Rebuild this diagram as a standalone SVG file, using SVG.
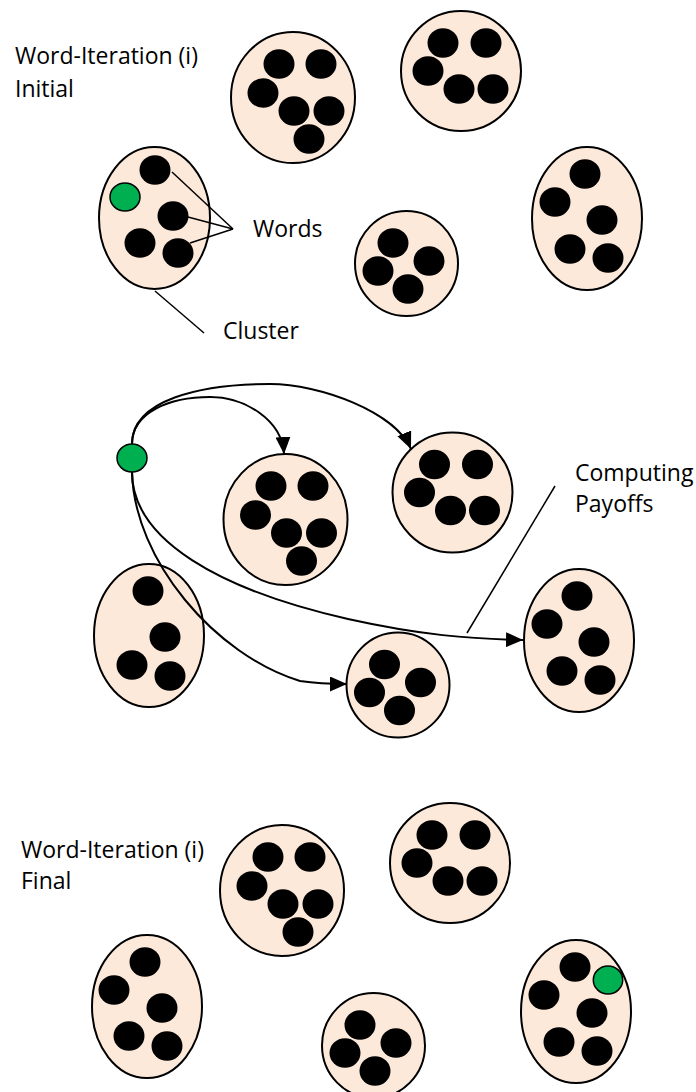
<svg xmlns="http://www.w3.org/2000/svg" width="696" height="1092" viewBox="0 0 696 1092">
<style>
.cl{fill:#FCE9DA;stroke:#000;stroke-width:2}
.w{fill:#000}
.g{fill:#00B050;stroke:#000;stroke-width:1.5}
.ln{fill:none;stroke:#000;stroke-width:1.5}
.ar{fill:none;stroke:#000;stroke-width:2;marker-end:url(#ah)}
.t{font-family:"Open Sans","Liberation Sans",Arial,sans-serif;font-size:23px;fill:#000}
</style>
<defs>
<marker id="ah" markerUnits="userSpaceOnUse" markerWidth="17" markerHeight="15" refX="17" refY="7.5" orient="auto"><path d="M0,0 L17,7.5 L0,15 z" fill="#000"/></marker>
</defs>
<rect width="696" height="1092" fill="#fff"/>
<g id="labels">
<text class="t" x="15" y="64">Word-Iteration (i)</text>
<text class="t" x="15" y="97">Initial</text>
<text class="t" x="253" y="237">Words</text>
<text class="t" x="223" y="339">Cluster</text>
<text class="t" x="575" y="481">Computing</text>
<text class="t" x="575" y="512">Payoffs</text>
<text class="t" x="21" y="858">Word-Iteration (i)</text>
<text class="t" x="21" y="889">Final</text>
</g>
<g id="clusterA">
<ellipse class="cl" cx="293" cy="97.5" rx="62" ry="65.5"/>
<ellipse class="w" cx="279" cy="64" rx="15.5" ry="14.8"/><ellipse class="w" cx="321" cy="64" rx="15.5" ry="14.8"/><ellipse class="w" cx="263" cy="93" rx="15.5" ry="14.8"/><ellipse class="w" cx="294" cy="111" rx="15.5" ry="14.8"/><ellipse class="w" cx="329" cy="111" rx="15.5" ry="14.8"/><ellipse class="w" cx="309" cy="139" rx="15.5" ry="14.8"/>
</g>
<g id="clusterB">
<ellipse class="cl" cx="461" cy="71" rx="60" ry="60"/>
<ellipse class="w" cx="443" cy="43" rx="15.5" ry="14.8"/><ellipse class="w" cx="486" cy="43" rx="15.5" ry="14.8"/><ellipse class="w" cx="428" cy="71" rx="15.5" ry="14.8"/><ellipse class="w" cx="459" cy="89" rx="15.5" ry="14.8"/><ellipse class="w" cx="493" cy="89" rx="15.5" ry="14.8"/>
</g>
<g id="clusterC">
<ellipse class="cl" cx="406.5" cy="263.5" rx="51.5" ry="52.5"/>
<ellipse class="w" cx="393" cy="243" rx="15.5" ry="14.8"/><ellipse class="w" cx="429" cy="261" rx="15.5" ry="14.8"/><ellipse class="w" cx="378" cy="271" rx="15.5" ry="14.8"/><ellipse class="w" cx="408" cy="289" rx="15.5" ry="14.8"/>
</g>
<g id="clusterD">
<ellipse class="cl" cx="587" cy="218.5" rx="55" ry="71.5"/>
<ellipse class="w" cx="585" cy="174" rx="15.5" ry="14.8"/><ellipse class="w" cx="555" cy="202" rx="15.5" ry="14.8"/><ellipse class="w" cx="602" cy="220" rx="15.5" ry="14.8"/><ellipse class="w" cx="570" cy="249" rx="15.5" ry="14.8"/><ellipse class="w" cx="608" cy="258" rx="15.5" ry="14.8"/>
</g>
<g id="clusterE">
<ellipse class="cl" cx="154.5" cy="218" rx="55.5" ry="71"/>
<ellipse class="w" cx="155" cy="170" rx="15.5" ry="14.8"/><ellipse class="w" cx="173" cy="216" rx="15.5" ry="14.8"/><ellipse class="w" cx="140" cy="243" rx="15.5" ry="14.8"/><ellipse class="w" cx="178" cy="253" rx="15.5" ry="14.8"/>
<ellipse class="g" cx="125" cy="197" rx="15" ry="14"/>
</g>
<g id="clusterF">
<ellipse class="cl" cx="285.5" cy="519.5" rx="62" ry="65.5"/>
<ellipse class="w" cx="271" cy="486" rx="15.5" ry="14.8"/><ellipse class="w" cx="313" cy="486" rx="15.5" ry="14.8"/><ellipse class="w" cx="255.5" cy="515" rx="15.5" ry="14.8"/><ellipse class="w" cx="286.5" cy="533" rx="15.5" ry="14.8"/><ellipse class="w" cx="321.5" cy="533" rx="15.5" ry="14.8"/><ellipse class="w" cx="301.5" cy="561" rx="15.5" ry="14.8"/>
</g>
<g id="clusterG">
<ellipse class="cl" cx="452.5" cy="492.5" rx="60" ry="60"/>
<ellipse class="w" cx="434.5" cy="464.5" rx="15.5" ry="14.8"/><ellipse class="w" cx="477.5" cy="464.5" rx="15.5" ry="14.8"/><ellipse class="w" cx="419.5" cy="492.5" rx="15.5" ry="14.8"/><ellipse class="w" cx="450.5" cy="510.5" rx="15.5" ry="14.8"/><ellipse class="w" cx="484.5" cy="510.5" rx="15.5" ry="14.8"/>
</g>
<g id="clusterH">
<ellipse class="cl" cx="149" cy="635.5" rx="55" ry="71.5"/>
<ellipse class="w" cx="148" cy="591" rx="15.5" ry="14.8"/><ellipse class="w" cx="165" cy="637" rx="15.5" ry="14.8"/><ellipse class="w" cx="132" cy="665" rx="15.5" ry="14.8"/><ellipse class="w" cx="170" cy="676" rx="15.5" ry="14.8"/>
</g>
<g id="clusterI">
<ellipse class="cl" cx="398" cy="685" rx="51.5" ry="52.5"/>
<ellipse class="w" cx="384.5" cy="664.5" rx="15.5" ry="14.8"/><ellipse class="w" cx="420.5" cy="682.5" rx="15.5" ry="14.8"/><ellipse class="w" cx="369.5" cy="692.5" rx="15.5" ry="14.8"/><ellipse class="w" cx="399.5" cy="710.5" rx="15.5" ry="14.8"/>
</g>
<g id="clusterJ">
<ellipse class="cl" cx="579" cy="640.5" rx="55" ry="71.5"/>
<ellipse class="w" cx="577" cy="596" rx="15.5" ry="14.8"/><ellipse class="w" cx="547" cy="624" rx="15.5" ry="14.8"/><ellipse class="w" cx="594" cy="642" rx="15.5" ry="14.8"/><ellipse class="w" cx="562" cy="671" rx="15.5" ry="14.8"/><ellipse class="w" cx="600" cy="680" rx="15.5" ry="14.8"/>
</g>
<g id="wordMoving">
<ellipse class="g" cx="132" cy="458" rx="15" ry="14"/>
</g>
<g id="clusterK">
<ellipse class="cl" cx="282" cy="890.5" rx="62" ry="65.5"/>
<ellipse class="w" cx="268" cy="857" rx="15.5" ry="14.8"/><ellipse class="w" cx="310" cy="857" rx="15.5" ry="14.8"/><ellipse class="w" cx="252" cy="886" rx="15.5" ry="14.8"/><ellipse class="w" cx="283" cy="904" rx="15.5" ry="14.8"/><ellipse class="w" cx="318" cy="904" rx="15.5" ry="14.8"/><ellipse class="w" cx="298" cy="932" rx="15.5" ry="14.8"/>
</g>
<g id="clusterM">
<ellipse class="cl" cx="450" cy="863" rx="60" ry="60"/>
<ellipse class="w" cx="432" cy="835" rx="15.5" ry="14.8"/><ellipse class="w" cx="475" cy="835" rx="15.5" ry="14.8"/><ellipse class="w" cx="417" cy="863" rx="15.5" ry="14.8"/><ellipse class="w" cx="448" cy="881" rx="15.5" ry="14.8"/><ellipse class="w" cx="482" cy="881" rx="15.5" ry="14.8"/>
</g>
<g id="clusterN">
<ellipse class="cl" cx="373.5" cy="1045.5" rx="51.5" ry="52.5"/>
<ellipse class="w" cx="360" cy="1025" rx="15.5" ry="14.8"/><ellipse class="w" cx="396" cy="1043" rx="15.5" ry="14.8"/><ellipse class="w" cx="345" cy="1053" rx="15.5" ry="14.8"/><ellipse class="w" cx="375" cy="1071" rx="15.5" ry="14.8"/>
</g>
<g id="clusterL">
<ellipse class="cl" cx="147" cy="1006.5" rx="55" ry="71.5"/>
<ellipse class="w" cx="145" cy="962" rx="15.5" ry="14.8"/><ellipse class="w" cx="114" cy="990" rx="15.5" ry="14.8"/><ellipse class="w" cx="162" cy="1008" rx="15.5" ry="14.8"/><ellipse class="w" cx="129" cy="1036" rx="15.5" ry="14.8"/><ellipse class="w" cx="167" cy="1046" rx="15.5" ry="14.8"/>
</g>
<g id="clusterO">
<ellipse class="cl" cx="576" cy="1011.5" rx="55" ry="71.5"/>
<ellipse class="w" cx="575" cy="967" rx="15.5" ry="14.8"/><ellipse class="w" cx="544" cy="995" rx="15.5" ry="14.8"/><ellipse class="w" cx="592" cy="1013" rx="15.5" ry="14.8"/><ellipse class="w" cx="559" cy="1042" rx="15.5" ry="14.8"/><ellipse class="w" cx="597" cy="1051" rx="15.5" ry="14.8"/>
<ellipse class="g" cx="608" cy="980" rx="14.7" ry="14"/>
</g>
<g id="connectors">
<line class="ln" x1="233" y1="229" x2="172" y2="172"/>
<line class="ln" x1="233" y1="229" x2="188" y2="217"/>
<line class="ln" x1="233" y1="229" x2="190" y2="243"/>
<line class="ln" x1="155" y1="291" x2="204" y2="333"/>
<line class="ln" x1="555" y1="486" x2="467" y2="633"/>
<path class="ar" d="M132,444 C132,412 170,397 210,397 C245,397 282,420 284,454"/>
<path class="ar" d="M132,444 C132,400 200,384 270,384 C320,384 395,412 411,449"/>
<path class="ar" d="M132,472 C132,540 220,590 348,619 C420,635 470,639 523,640"/>
<path class="ar" d="M132,472 C134,560 215,655 300,681 C320,684 335,684 347,684"/>
</g>
</svg>
